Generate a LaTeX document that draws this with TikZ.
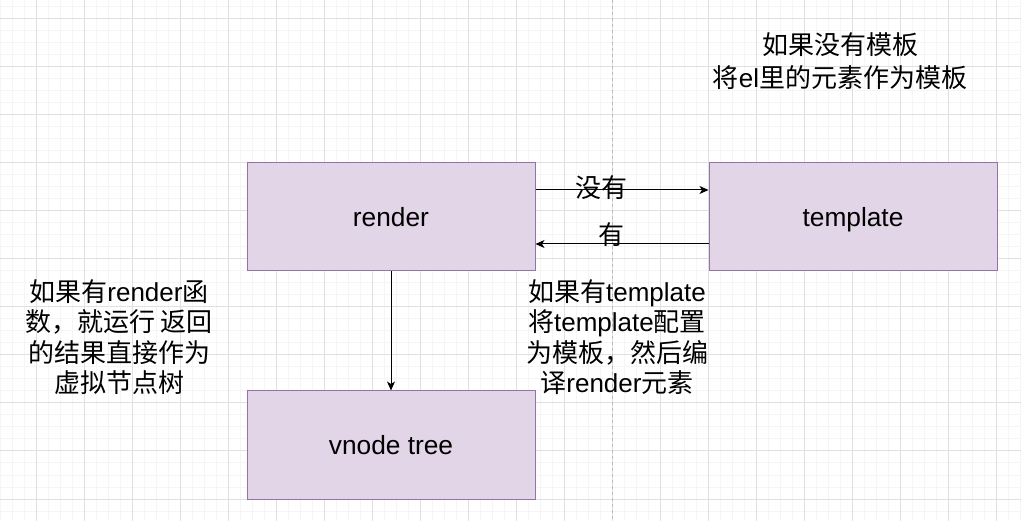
\documentclass[tikz,border=0pt]{standalone}
\usepackage{fontspec}
\setmainfont{Liberation Sans}
\newfontfamily\cjk{Noto Sans CJK SC}
\usetikzlibrary{arrows.meta}
\newcommand{\zh}[1]{{\cjk #1}}
\definecolor{boxfill}{HTML}{E1D5E7}
\definecolor{boxline}{HTML}{9673A6}
\definecolor{gridmajor}{HTML}{E0E0E0}
\definecolor{gridminor}{HTML}{F5F5F5}
\definecolor{pagebreak}{HTML}{BBBBBB}
\tikzset{
  box/.style={draw=boxline, fill=boxfill, line width=1pt, minimum width=288pt, minimum height=108pt, inner sep=0pt, font=\fontsize{26.3}{30}\selectfont},
  note/.style={align=center, inner sep=0pt, font=\fontsize{26}{30.5}\selectfont},
  arr/.style={line width=1pt, -{Stealth[length=9pt,width=8pt,inset=2.5pt]}},
  lbl/.style={inner sep=0pt, font=\fontsize{26}{30}\selectfont}
}
\begin{document}
\begin{tikzpicture}[x=1pt,y=-1pt]
\useasboundingbox (0,0) rectangle (1021,521);
\fill[white] (0,0) rectangle (1021,521);
\foreach \x in {0,12,...,1020} \draw[gridminor, line width=1pt] (\x,0) -- (\x,521);
\foreach \y in {7,19,...,521} \draw[gridminor, line width=1pt] (0,\y) -- (1021,\y);
\foreach \x in {36,84,...,1020} \draw[gridmajor, line width=1pt] (\x,0) -- (\x,521);
\foreach \y in {19,67,...,521} \draw[gridmajor, line width=1pt] (0,\y) -- (1021,\y);
\draw[pagebreak, line width=1pt, dash pattern=on 3pt off 3pt] (612,0) -- (612,521);

\node[box] (render) at (391,217) {render};
\node[box] (template) at (853,217) {\raisebox{0pt}[\height][0pt]{template}};
\node[box] (vnode) at (391,445) {vnode tree};

\draw[arr] ([yshift=27pt]render.east) -- ([yshift=27pt]template.west);
\draw[arr] ([yshift=-27pt]template.west) -- ([yshift=-27pt]render.east);
\draw[arr] (render.south) -- (vnode.north);

\node[lbl] (lno) at (601,188) {\zh{没有}};
\node[lbl] (lyes) at (611,235) {\zh{有}};

\node[note] (topnote) at (840,61) {\zh{如果没有模板}\\[2pt]\zh{将}el\zh{里的元素作为模板}};
\node[note] (leftnote) at (119,337) {\zh{如果有}render\zh{函}\\\zh{数，就运行 返回}\\\zh{的结果直接作为}\\\zh{虚拟节点树}};
\node[note] (rightnote) at (617,337) {\zh{如果有}template\\\zh{将}template\zh{配置}\\\zh{为模板，然后编}\\\zh{译}render\zh{元素}};
\end{tikzpicture}
\end{document}
